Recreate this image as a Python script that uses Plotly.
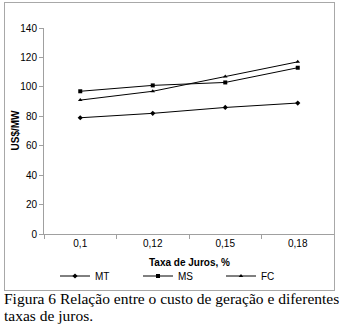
import plotly.graph_objects as go

categories = ["0,1", "0,12", "0,15", "0,18"]
mt = [79, 82, 86, 89]
ms = [97, 101, 103, 113]
fc = [91, 97, 107, 117]

W, H = 341, 330
# outer chart box (paper area) in pixels
PL, PR, PT, PB = 5, 334, 3, 290
# inner plot area in pixels
L, R, T, B = 44, 334, 28, 234


def px(x):
    return (x - PL) / (PR - PL)


def py(y):
    return (PB - y) / (PB - PT)


fig = go.Figure()
series = [("MT", mt, "diamond", 4), ("MS", ms, "square", 4), ("FC", fc, "triangle-up", 4)]
for name, vals, sym, sz in series:
    fig.add_trace(go.Scatter(
        x=categories, y=vals, name=name, mode="lines+markers",
        line=dict(color="black", width=1),
        marker=dict(symbol=sym, size=sz, color="black"),
    ))

# empty, invisible trace so that the frame subplot (x2/y2) is rendered
fig.add_trace(go.Scatter(x=[None], y=[None], xaxis="x2", yaxis="y2", mode="lines",
                         showlegend=False, hoverinfo="skip"))

axis_font = dict(family="Liberation Sans, Arial", size=10, color="black")
fig.update_layout(
    width=W, height=H,
    margin=dict(l=PL, r=W - PR, t=PT, b=H - PB, autoexpand=False),
    paper_bgcolor="white", plot_bgcolor="rgba(0,0,0,0)",
    showlegend=True,
    legend=dict(orientation="h", xref="container", yref="container",
                x=55 / W, xanchor="left", y=1 - 276 / H, yanchor="middle",
                font=dict(family="Liberation Sans, Arial", size=10, color="black"),
                entrywidth=38, entrywidthmode="pixels", itemwidth=30,
                bgcolor="rgba(0,0,0,0)"),
    xaxis=dict(type="category", domain=[px(L), px(R)], anchor="y",
               showline=True, linecolor="#a0a0a0", linewidth=1,
               ticks="outside", ticklen=4, tickcolor="#a0a0a0", tickson="boundaries",
               showgrid=False, tickfont=axis_font, range=[-0.5, 3.5], automargin=False),
    yaxis=dict(range=[0, 140], dtick=20, domain=[py(B), py(T)], anchor="x",
               showline=True, linecolor="#a0a0a0", linewidth=1,
               ticks="outside", ticklen=4, tickcolor="#a0a0a0", showgrid=False,
               zeroline=False, tickfont=axis_font, automargin=False),
    # frame around the whole chart, drawn with a mirrored empty axis pair
    xaxis2=dict(domain=[0, 1], anchor="y2", showline=True, mirror=True, range=[0, 1],
                linecolor="#a8a8a8", linewidth=1, showticklabels=False, ticks="",
                showgrid=False, zeroline=False, fixedrange=True),
    yaxis2=dict(domain=[0, 1], anchor="x2", showline=True, mirror=True, range=[0, 1],
                linecolor="#a8a8a8", linewidth=1, showticklabels=False, ticks="",
                showgrid=False, zeroline=False, fixedrange=True),
)

# axis titles
fig.add_annotation(text="<b>Taxa de Juros, %</b>", xref="paper", yref="paper",
                   x=px(189), y=py(262), xanchor="center", yanchor="middle",
                   showarrow=False, font=axis_font)
fig.add_annotation(text="<b>US$/MW</b>", xref="paper", yref="paper",
                   x=px(14.5), y=py(130), xanchor="center", yanchor="middle",
                   textangle=-90, showarrow=False, font=axis_font)

cap_font = dict(family="Liberation Serif, Times New Roman", size=15.5, color="black")
fig.add_annotation(text="Figura 6 Relação entre o custo de geração e diferentes",
                   xref="paper", yref="paper", x=px(2), y=py(298), xanchor="left",
                   yanchor="middle", showarrow=False, font=cap_font, height=17)
fig.add_annotation(text="taxas de juros.",
                   xref="paper", yref="paper", x=px(2), y=py(315), xanchor="left",
                   yanchor="middle", showarrow=False, font=cap_font, height=17)

fig.write_html("out.html", config={"displayModeBar": False},
               post_script="document.body.style.margin='0';document.body.style.overflow='hidden';")
